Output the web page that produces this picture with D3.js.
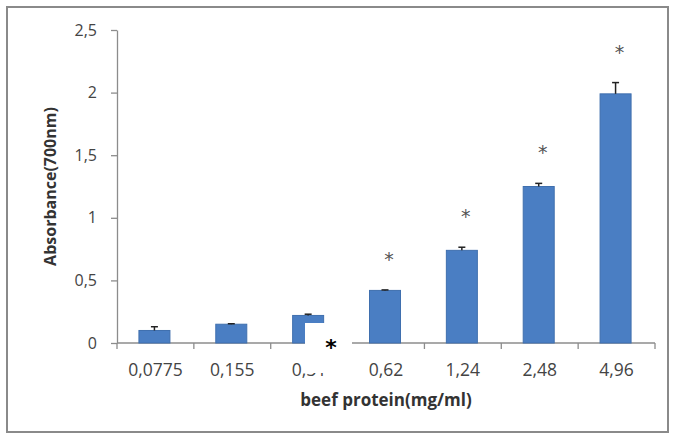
<!DOCTYPE html>
<html>
<head>
<meta charset="utf-8">
<script src="https://cdn.jsdelivr.net/npm/d3@7"></script>
<style>
  body { margin: 0; background: #fff; }
  svg { display: block; }
</style>
</head>
<body>
<div id="chart"></div>
<script>
// data
const concentrations = ["0,0775", "0,155", "0,31", "0,62", "1,24", "2,48", "4,96"];
const absorbance = [0.10, 0.15, 0.22, 0.42, 0.74, 1.25, 1.99];
const errors = [0.03, 0.004, 0.01, 0.004, 0.025, 0.025, 0.09];
const significant = [false, false, false, true, true, true, true];
const yTicks = [0, 0.5, 1, 1.5, 2, 2.5];

const W = 673, H = 435;
const margin = { top: 30, right: 18, bottom: 92, left: 117 };

const svg = d3.select("#chart")
    .append("svg")
    .attr("width", W)
    .attr("height", H);

// outer frame
svg.append("rect")
    .attr("x", 7).attr("y", 7)
    .attr("width", 661).attr("height", 425)
    .attr("fill", "#fff")
    .attr("stroke", "#8a8a8a")
    .attr("stroke-width", 2);

const xScale = d3.scaleBand()
    .domain(concentrations)
    .range([margin.left, W - margin.right])
    .padding(0);

const yScale = d3.scaleLinear()
    .domain([0, 2.5])
    .range([H - margin.bottom, margin.top]);

const fmt = d3.formatLocale({ decimal: ",", thousands: ".", grouping: [3], currency: ["", ""] }).format("~g");

// y axis
const yAxis = svg.append("g")
    .attr("transform", `translate(${margin.left},0)`)
    .call(d3.axisLeft(yScale).tickValues(yTicks).tickFormat(fmt).tickSize(6).tickSizeOuter(0));
yAxis.select(".domain").attr("stroke", "#8c8c8c").attr("stroke-width", 1.3);
yAxis.selectAll(".tick line").attr("stroke", "#8c8c8c").attr("stroke-width", 1.3);
yAxis.selectAll(".tick text")
    .attr("x", -20)
    .attr("fill", "#444")
    .style("font-family", "'Open Sans', sans-serif")
    .style("font-size", "16px");

// x axis: ticks sit between categories
const x0 = margin.left, y0 = yScale(0);
const xAxis = svg.append("g");
xAxis.append("line")
    .attr("x1", x0).attr("x2", W - margin.right)
    .attr("y1", y0).attr("y2", y0)
    .attr("stroke", "#8c8c8c").attr("stroke-width", 1.3);
const bounds = concentrations.map(c => xScale(c)).concat([xScale.range()[1]]);
xAxis.selectAll(".xtick")
    .data(bounds)
    .enter()
    .append("line")
    .attr("x1", d => d).attr("x2", d => d)
    .attr("y1", y0).attr("y2", y0 + 6)
    .attr("stroke", "#8c8c8c").attr("stroke-width", 1.3);
xAxis.selectAll(".xlabel")
    .data(concentrations)
    .enter()
    .append("text")
    .attr("x", d => xScale(d) + xScale.bandwidth() / 2)
    .attr("y", y0 + 33)
    .attr("text-anchor", "middle")
    .attr("fill", "#444")
    .style("font-family", "'Open Sans', sans-serif")
    .style("font-size", "17.5px")
    .text(d => d);

// bars
const barW = 31;
const rows = concentrations.map((c, i) => ({ c, v: absorbance[i], e: errors[i], s: significant[i] }));
const cx = d => xScale(d.c) + xScale.bandwidth() / 2 - 1;

svg.selectAll(".bar")
    .data(rows)
    .enter()
    .append("rect")
    .attr("class", "bar")
    .attr("x", d => cx(d) - barW / 2)
    .attr("y", d => yScale(d.v))
    .attr("width", barW)
    .attr("height", d => y0 - yScale(d.v))
    .attr("fill", "#4a7ec3")
    .attr("stroke", "#3f6fae")
    .attr("stroke-width", 1);

// error bars (upper half only)
const err = svg.selectAll(".err")
    .data(rows)
    .enter()
    .append("g")
    .attr("stroke", "#222")
    .attr("stroke-width", 1.5);
err.append("line")
    .attr("x1", cx).attr("x2", cx)
    .attr("y1", d => yScale(d.v))
    .attr("y2", d => yScale(d.v + d.e));
err.append("line")
    .attr("x1", d => cx(d) - 3.5).attr("x2", d => cx(d) + 3.5)
    .attr("y1", d => yScale(d.v + d.e))
    .attr("y2", d => yScale(d.v + d.e));

// significance stars
svg.selectAll(".star")
    .data(rows.filter(d => d.s))
    .enter()
    .append("text")
    .attr("x", d => cx(d) + 4)
    .attr("y", d => yScale(d.v + d.e) - 24)
    .attr("text-anchor", "middle")
    .attr("fill", "#555")
    .style("font-family", "'DejaVu Sans', sans-serif")
    .style("font-size", "19px")
    .text("*");

// white patch with a star over the third label
svg.append("rect")
    .attr("x", 305).attr("y", 323)
    .attr("width", 47).attr("height", 50)
    .attr("fill", "#fff");
svg.append("text")
    .attr("x", 331).attr("y", 355)
    .attr("text-anchor", "middle")
    .attr("fill", "#000")
    .style("font-family", "'DejaVu Sans', sans-serif")
    .style("font-weight", "bold")
    .style("font-size", "22px")
    .text("*");

// axis titles
svg.append("text")
    .attr("x", (margin.left + W - margin.right) / 2)
    .attr("y", 406)
    .attr("text-anchor", "middle")
    .attr("fill", "#333")
    .style("font-family", "'Open Sans', sans-serif")
    .style("font-weight", "bold")
    .style("font-size", "17px")
    .text("beef protein(mg/ml)");

svg.append("text")
    .attr("transform", `translate(56,${(margin.top + y0) / 2}) rotate(-90)`)
    .attr("text-anchor", "middle")
    .attr("fill", "#333")
    .style("font-family", "'Open Sans', sans-serif")
    .style("font-weight", "bold")
    .style("font-size", "16px")
    .text("Absorbance(700nm)");
</script>
</body>
</html>
